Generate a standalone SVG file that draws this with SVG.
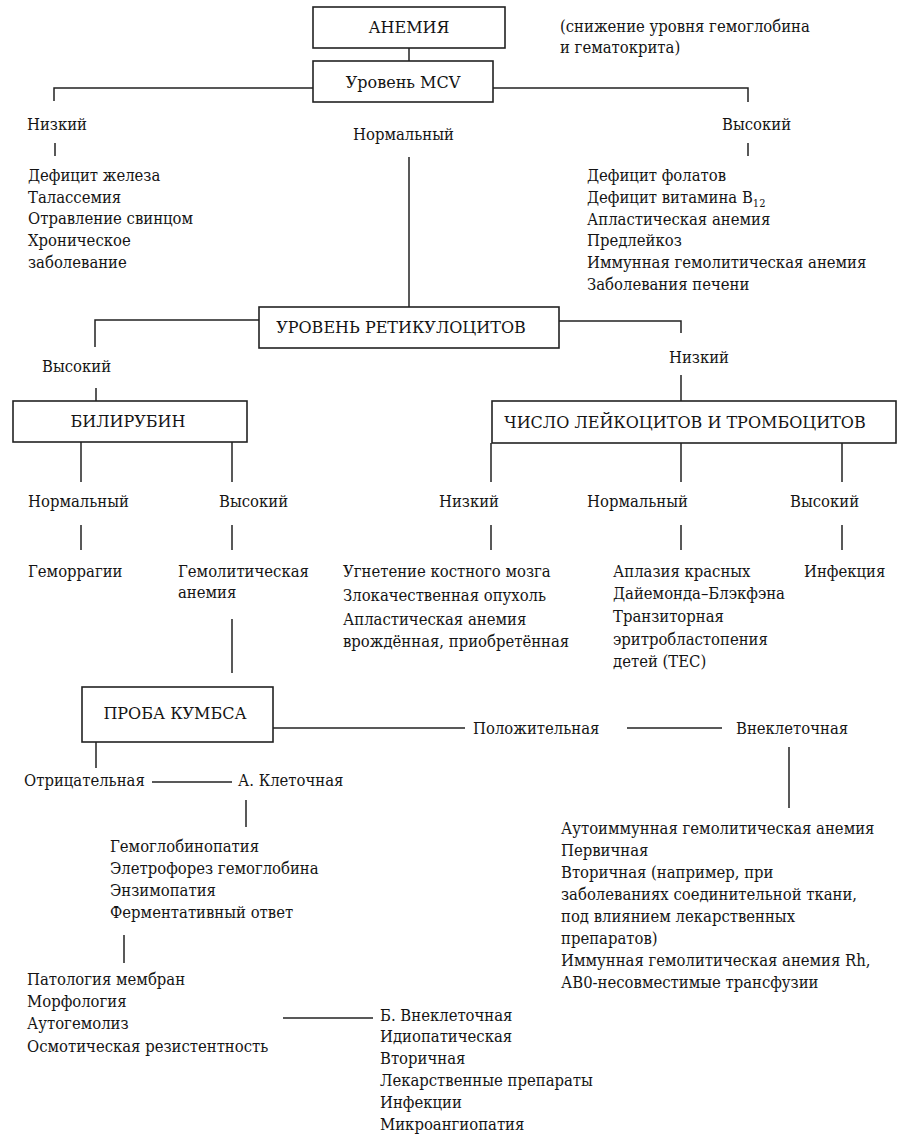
<svg xmlns="http://www.w3.org/2000/svg" width="900" height="1142" viewBox="0 0 900 1142">
<style>
text{font-family:"DejaVu Serif Condensed","DejaVu Serif","Liberation Serif",serif;font-stretch:condensed;font-size:16.5px;fill:#141414}
.bx{font-family:"DejaVu Serif","Liberation Serif",serif;font-stretch:normal;font-size:16px;text-anchor:middle}
.box{fill:#fff;stroke:#222;stroke-width:1.6}
.ln{fill:none;stroke:#222;stroke-width:1.5}
.sub{font-size:11px}
</style>
<rect width="900" height="1142" fill="#fff"/>
<g id="connectors" class="ln">
<path d="M409 48V61"/>
<path d="M313 88H54V101"/>
<path d="M493 88H748V102"/>
<path d="M55 143V156"/>
<path d="M748 143V156"/>
<path d="M409 157V307"/>
<path d="M259 320H95V347"/>
<path d="M96 388V401"/>
<path d="M559 321H681V333"/>
<path d="M681 375V401"/>
<path d="M81 442V482"/>
<path d="M232 442V482"/>
<path d="M81 525V550"/>
<path d="M232 525V550"/>
<path d="M491 443V482"/>
<path d="M681 443V482"/>
<path d="M842 443V482"/>
<path d="M491 525V550"/>
<path d="M681 525V550"/>
<path d="M842 525V550"/>
<path d="M232 619V673"/>
<path d="M273 728H465"/>
<path d="M627 728H722"/>
<path d="M789 747V808"/>
<path d="M96 742V768"/>
<path d="M152 782H232"/>
<path d="M246 800V827"/>
<path d="M124 935V963"/>
<path d="M283 1018H373"/>
</g>
<g id="anemia">
<rect class="box" x="313" y="7" width="192" height="41"/>
<text class="bx" x="409" y="33">АНЕМИЯ</text>
</g>
<g id="anemia-note">
<text x="560" y="32">(снижение уровня гемоглобина</text>
<text x="560" y="53">и гематокрита)</text>
</g>
<g id="mcv">
<rect class="box" x="313" y="61" width="180" height="41"/>
<text class="bx" x="403" y="88">Уровень MCV</text>
</g>
<g id="mcv-low">
<text x="27" y="130">Низкий</text>
<text x="28" y="181">Дефицит железа</text>
<text x="28" y="203">Талассемия</text>
<text x="28" y="224">Отравление свинцом</text>
<text x="28" y="246">Хроническое</text>
<text x="28" y="268">заболевание</text>
</g>
<g id="mcv-normal">
<text x="353" y="140">Нормальный</text>
</g>
<g id="mcv-high">
<text x="722" y="130">Высокий</text>
<text x="587" y="181">Дефицит фолатов</text>
<text x="587" y="203">Дефицит витамина B<tspan class="sub" dy="4">12</tspan></text>
<text x="587" y="225">Апластическая анемия</text>
<text x="587" y="246">Предлейкоз</text>
<text x="587" y="268">Иммунная гемолитическая анемия</text>
<text x="587" y="290">Заболевания печени</text>
</g>
<g id="retic">
<rect class="box" x="259" y="307" width="300" height="41"/>
<text class="bx" x="401" y="333">УРОВЕНЬ РЕТИКУЛОЦИТОВ</text>
</g>
<g id="retic-high">
<text x="42" y="372">Высокий</text>
</g>
<g id="retic-low">
<text x="669" y="363">Низкий</text>
</g>
<g id="bilirubin">
<rect class="box" x="13" y="401" width="234" height="41"/>
<text class="bx" x="128" y="427">БИЛИРУБИН</text>
</g>
<g id="wbc">
<rect class="box" x="492" y="401" width="404" height="42"/>
<text class="bx" x="685" y="428">ЧИСЛО ЛЕЙКОЦИТОВ И ТРОМБОЦИТОВ</text>
</g>
<g id="bili-normal">
<text x="28" y="507">Нормальный</text>
<text x="28" y="577">Геморрагии</text>
</g>
<g id="bili-high">
<text x="219" y="507">Высокий</text>
<text x="178" y="577">Гемолитическая</text>
<text x="178" y="598">анемия</text>
</g>
<g id="wbc-low">
<text x="439" y="507">Низкий</text>
<text x="343" y="577">Угнетение костного мозга</text>
<text x="343" y="601">Злокачественная опухоль</text>
<text x="343" y="625">Апластическая анемия</text>
<text x="343" y="647">врождённая, приобретённая</text>
</g>
<g id="wbc-normal">
<text x="587" y="507">Нормальный</text>
<text x="613" y="577">Аплазия красных</text>
<text x="613" y="599">Дайемонда–Блэкфэна</text>
<text x="613" y="622">Транзиторная</text>
<text x="613" y="645">эритробластопения</text>
<text x="613" y="667">детей (ТЕС)</text>
</g>
<g id="wbc-high">
<text x="790" y="507">Высокий</text>
<text x="804" y="577">Инфекция</text>
</g>
<g id="coombs">
<rect class="box" x="82" y="687" width="191" height="55"/>
<text class="bx" x="175" y="719">ПРОБА КУМБСА</text>
</g>
<g id="coombs-positive">
<text x="473" y="734">Положительная</text>
</g>
<g id="extracellular">
<text x="736" y="734">Внеклеточная</text>
<text x="561" y="834">Аутоиммунная гемолитическая анемия</text>
<text x="561" y="856">Первичная</text>
<text x="561" y="878">Вторичная (например, при</text>
<text x="561" y="900">заболеваниях соединительной ткани,</text>
<text x="561" y="922">под влиянием лекарственных</text>
<text x="561" y="944">препаратов)</text>
<text x="561" y="966">Иммунная гемолитическая анемия Rh,</text>
<text x="561" y="988">АВ0-несовместимые трансфузии</text>
</g>
<g id="coombs-negative">
<text x="24" y="786">Отрицательная</text>
</g>
<g id="cellular">
<text x="238" y="786">А. Клеточная</text>
<text x="110" y="852">Гемоглобинопатия</text>
<text x="110" y="874">Элетрофорез гемоглобина</text>
<text x="110" y="896">Энзимопатия</text>
<text x="110" y="918">Ферментативный ответ</text>
</g>
<g id="membrane">
<text x="27" y="985">Патология мембран</text>
<text x="27" y="1007">Морфология</text>
<text x="27" y="1029">Аутогемолиз</text>
<text x="27" y="1052">Осмотическая резистентность</text>
</g>
<g id="b-extracellular">
<text x="380" y="1021">Б. Внеклеточная</text>
<text x="380" y="1042">Идиопатическая</text>
<text x="380" y="1064">Вторичная</text>
<text x="380" y="1086">Лекарственные препараты</text>
<text x="380" y="1108">Инфекции</text>
<text x="380" y="1130">Микроангиопатия</text>
</g>
</svg>
